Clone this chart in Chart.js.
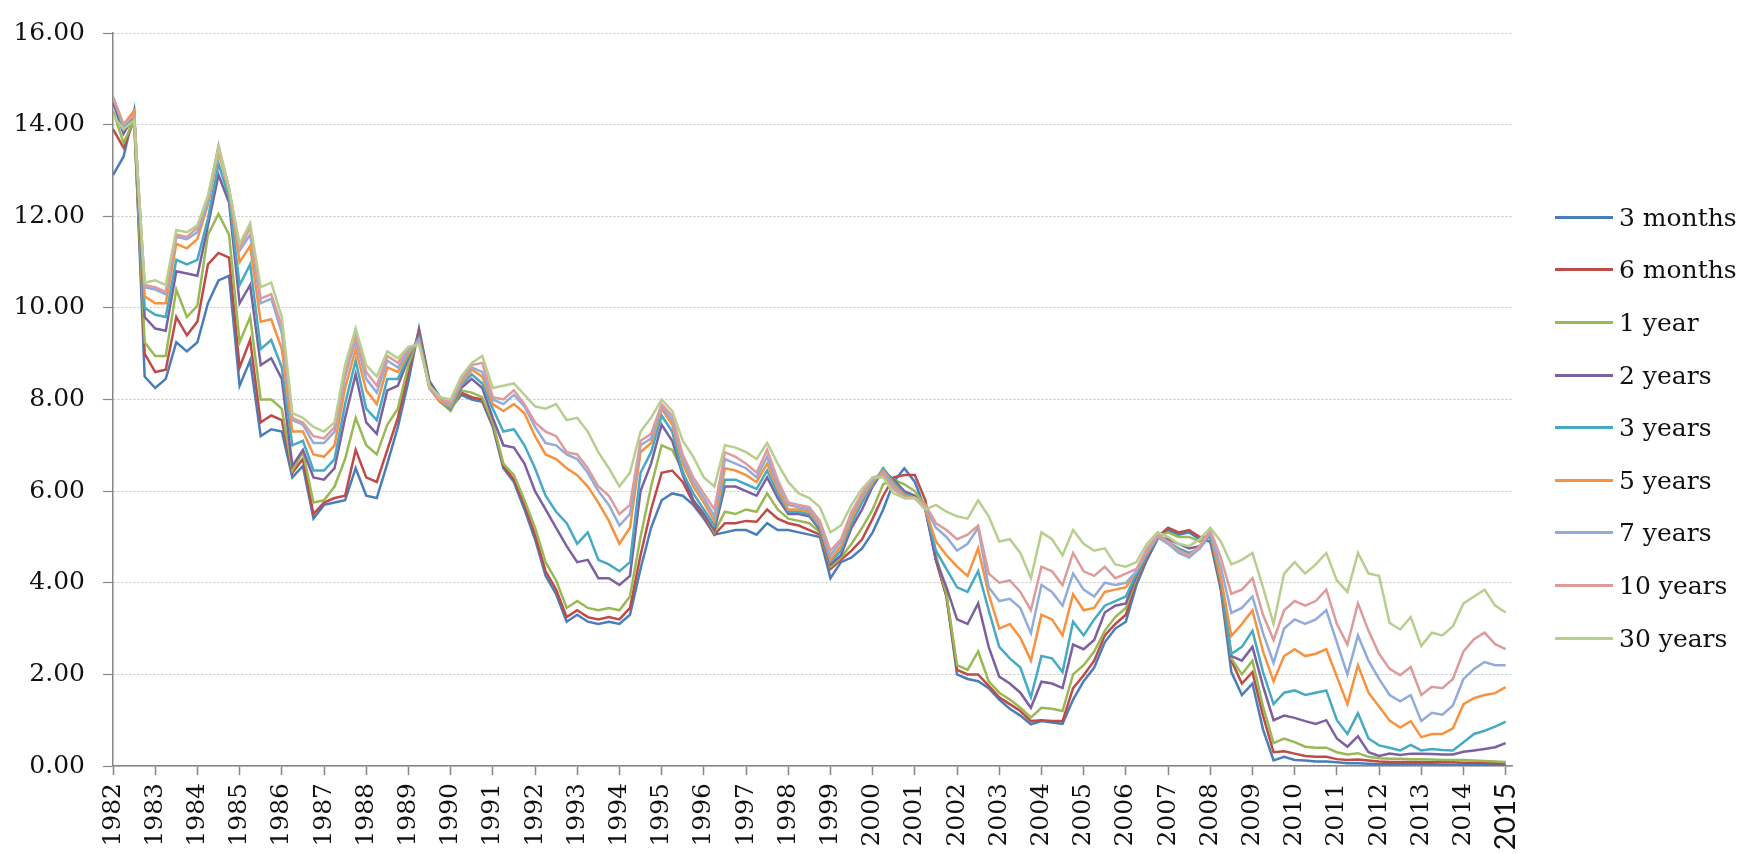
<!DOCTYPE html>
<html>
<head>
<meta charset="utf-8">
<script src="https://cdn.jsdelivr.net/npm/chart.js@4.4.1/dist/chart.umd.min.js"></script>
<style>
  html, body { margin: 0; padding: 0; background: #fff; }
  #wrap { position: relative; width: 1756px; height: 854px; }
  #legend { position: absolute; left: 1555px; top: 191px; font: 25px "DejaVu Serif", serif; color: #111; }
  .item { height: 52.6px; display: flex; align-items: center; white-space: nowrap; }
  .swatch { width: 58px; height: 3px; margin-right: 6px; }
</style>
</head>
<body>
<div id="wrap">
  <canvas id="chart"></canvas>
  <div id="legend"></div>
</div>
<script>
// quarterly points, 1982 Q1 .. 2015 Q1
const quarters = [];
for (let y = 1982; y <= 2015; y++) {
  for (let q = 0; q < 4; q++) {
    if (y === 2015 && q > 0) break;
    quarters.push(y + q / 4);
  }
}

const yearTicks = [1982, 1983, 1984, 1985, 1986, 1987, 1988, 1989, 1990, 1991, 1992,
  1993, 1994, 1995, 1996, 1997, 1998, 1999, 2000, 2001, 2002, 2003, 2004, 2005,
  2006, 2007, 2008, 2009, 2010, 2011, 2012, 2013, 2014, 2015];

const seriesNames = ["3 months", "6 months", "1 year", "2 years", "3 years",
  "5 years", "7 years", "10 years", "30 years"];
const seriesColors = ["#4A7EBB", "#BE4B48", "#98B954", "#7D60A0", "#46AAC5",
  "#F69240", "#93ABDA", "#DE9B9B", "#B7CF8E"];

const m3 = [
  12.9, 13.3, 14.3, 8.5,
  8.25, 8.45, 9.25, 9.05,
  9.25, 10.1, 10.6, 10.7,
  8.3, 8.85, 7.2, 7.35,
  7.3, 6.3, 6.55, 5.4,
  5.7, 5.75, 5.8, 6.5,
  5.9, 5.85, 6.6, 7.4,
  8.4, 9.55, 8.4, 8.05,
  7.8, 8.1, 8.0, 7.95,
  7.4, 6.5, 6.2, 5.6,
  4.95, 4.15, 3.75, 3.15,
  3.3, 3.15, 3.1, 3.15,
  3.1, 3.3, 4.3, 5.2,
  5.8, 5.95, 5.9, 5.7,
  5.4, 5.05, 5.1, 5.15,
  5.15, 5.05, 5.3, 5.15,
  5.15, 5.1, 5.05, 5.0,
  4.1, 4.45, 4.55, 4.75,
  5.1, 5.6, 6.2, 6.5,
  6.2, 5.6, 4.5, 3.7,
  2.0, 1.9, 1.85, 1.7,
  1.45, 1.25, 1.1, 0.91,
  0.98, 0.95, 0.92, 1.45,
  1.85, 2.15, 2.7, 3.0,
  3.15, 3.95, 4.5, 4.95,
  5.15, 5.05, 5.1, 4.95,
  4.9, 3.85, 2.05, 1.55,
  1.8, 0.8, 0.12, 0.2,
  0.13, 0.12, 0.1, 0.1,
  0.08, 0.06, 0.06, 0.05,
  0.04, 0.04, 0.04, 0.04,
  0.04, 0.04, 0.03, 0.03,
  0.03, 0.03, 0.03, 0.02,
  0.02
];

const m6 = [
  13.9, 13.5, 14.1, 9.0,
  8.6, 8.65, 9.8, 9.4,
  9.7, 10.95, 11.2, 11.1,
  8.7, 9.3, 7.5, 7.65,
  7.55, 6.4, 6.7, 5.5,
  5.75, 5.85, 5.9, 6.9,
  6.3, 6.2, 6.9, 7.6,
  8.6, 9.5, 8.35, 8.0,
  7.8, 8.15, 8.05, 8.0,
  7.45, 6.55, 6.25, 5.7,
  5.05, 4.25, 3.85, 3.25,
  3.4, 3.25, 3.2, 3.25,
  3.2, 3.45, 4.6, 5.6,
  6.4, 6.45, 6.2, 5.75,
  5.45, 5.05, 5.3, 5.3,
  5.35, 5.33, 5.6, 5.4,
  5.3, 5.25, 5.15, 5.05,
  4.3, 4.5, 4.7, 4.95,
  5.4, 5.9, 6.3, 6.35,
  6.35, 5.8, 4.5, 3.7,
  2.1, 2.0, 2.0, 1.75,
  1.5, 1.35, 1.2, 0.98,
  1.0, 0.98, 0.98, 1.7,
  1.98, 2.3, 2.85, 3.1,
  3.3, 4.05, 4.55, 5.0,
  5.2, 5.1, 5.15, 5.0,
  5.0, 3.9, 2.3, 1.8,
  2.05, 1.1, 0.3, 0.32,
  0.27, 0.22, 0.2, 0.2,
  0.15, 0.13, 0.14, 0.12,
  0.1, 0.09, 0.09, 0.09,
  0.09, 0.08, 0.08, 0.08,
  0.07, 0.07, 0.07, 0.06,
  0.06
];

const y1 = [
  14.3, 13.6, 14.1, 9.25,
  8.95, 8.95, 10.4, 9.8,
  10.05, 11.6, 12.05, 11.6,
  9.25, 9.8, 8.0, 8.0,
  7.8, 6.45, 6.85, 5.75,
  5.8, 6.1, 6.7, 7.6,
  7.0, 6.8, 7.45, 7.8,
  8.75, 9.4, 8.3, 7.95,
  7.75, 8.2, 8.15, 8.05,
  7.5, 6.6, 6.35, 5.8,
  5.2, 4.45, 4.05, 3.45,
  3.6, 3.45, 3.4, 3.45,
  3.4, 3.7, 5.0, 6.1,
  7.0, 6.9, 6.45, 5.8,
  5.5, 5.1, 5.55, 5.5,
  5.6, 5.55, 5.95, 5.6,
  5.4, 5.35, 5.3, 5.1,
  4.35, 4.55, 4.85, 5.2,
  5.6, 6.15, 6.25, 6.15,
  6.0, 5.7, 4.6, 3.75,
  2.2, 2.1, 2.5, 1.85,
  1.6, 1.45, 1.27, 1.06,
  1.27, 1.25, 1.2, 2.0,
  2.2, 2.5, 2.95, 3.25,
  3.45, 4.1, 4.6, 5.0,
  5.1, 5.0, 5.0, 4.9,
  5.05, 3.98, 2.35, 2.0,
  2.3, 1.3, 0.5, 0.6,
  0.52, 0.42, 0.4, 0.4,
  0.3, 0.25, 0.28, 0.2,
  0.17, 0.16, 0.16, 0.15,
  0.15, 0.14, 0.13, 0.13,
  0.13, 0.12, 0.11, 0.1,
  0.09
];

const y2 = [
  14.5, 13.8, 14.2, 9.8,
  9.55, 9.5, 10.8, 10.75,
  10.7, 11.8, 12.9, 12.3,
  10.1, 10.5, 8.75, 8.9,
  8.45, 6.55, 6.9, 6.3,
  6.25, 6.5, 7.6, 8.55,
  7.5, 7.25, 8.2, 8.3,
  8.9, 9.4, 8.25, 7.95,
  7.8, 8.25, 8.45, 8.25,
  7.6, 7.0, 6.95, 6.6,
  6.0, 5.6, 5.2, 4.8,
  4.45, 4.5, 4.1, 4.1,
  3.95, 4.15, 6.0, 6.6,
  7.45, 7.1, 6.35, 5.8,
  5.5, 5.15, 6.1, 6.1,
  6.0, 5.9, 6.3, 5.85,
  5.5, 5.5, 5.45, 5.15,
  4.4, 4.6, 5.2, 5.6,
  6.1, 6.45, 6.25, 6.0,
  5.9, 5.6, 4.5, 3.9,
  3.2, 3.1, 3.55, 2.6,
  1.95, 1.8, 1.6, 1.27,
  1.84, 1.8, 1.7, 2.65,
  2.55, 2.75, 3.35, 3.5,
  3.55, 4.15, 4.6, 5.0,
  4.95, 4.85, 4.75, 4.8,
  5.05, 4.05, 2.4, 2.3,
  2.6, 1.75, 1.0, 1.1,
  1.05, 0.98, 0.92, 1.0,
  0.6, 0.42, 0.65, 0.3,
  0.22, 0.27, 0.24, 0.27,
  0.27, 0.26, 0.25, 0.25,
  0.31, 0.34, 0.37, 0.41,
  0.5
];

const y3 = [
  14.6, 13.9, 14.3, 10.0,
  9.85, 9.8, 11.05, 10.95,
  11.05, 11.95, 13.15, 12.4,
  10.5, 10.95, 9.1, 9.3,
  8.7, 7.0, 7.1, 6.45,
  6.45, 6.7, 7.9, 8.85,
  7.8, 7.55, 8.45, 8.45,
  8.95, 9.35, 8.25, 7.95,
  7.8, 8.3, 8.55, 8.35,
  7.8, 7.3, 7.35, 7.0,
  6.5, 5.9, 5.55, 5.3,
  4.85, 5.1, 4.5, 4.4,
  4.25, 4.45, 6.4, 6.85,
  7.65, 7.3, 6.4, 5.95,
  5.6, 5.25, 6.25, 6.25,
  6.15, 6.05, 6.45, 5.95,
  5.55, 5.55, 5.5, 5.2,
  4.45, 4.7, 5.3, 5.75,
  6.15, 6.5, 6.2, 5.95,
  5.85, 5.6, 4.7, 4.3,
  3.9, 3.8, 4.25, 3.4,
  2.6, 2.35, 2.15, 1.5,
  2.4, 2.35, 2.05, 3.15,
  2.85, 3.2, 3.5, 3.6,
  3.7, 4.2, 4.6, 5.0,
  4.9, 4.75, 4.65, 4.75,
  5.05, 4.05, 2.45, 2.6,
  2.95, 2.05, 1.35, 1.6,
  1.65, 1.55, 1.6, 1.65,
  1.0, 0.7, 1.15, 0.6,
  0.45, 0.4, 0.34, 0.46,
  0.34, 0.37, 0.35, 0.34,
  0.52, 0.7, 0.77, 0.86,
  0.97
];

const y5 = [
  14.6, 14.0, 14.3, 10.25,
  10.1, 10.1, 11.4, 11.3,
  11.5, 12.25, 13.4, 12.55,
  11.0, 11.35, 9.7, 9.75,
  9.1, 7.3, 7.3, 6.8,
  6.75, 7.0, 8.25, 9.1,
  8.2, 7.9, 8.7, 8.6,
  9.0, 9.3, 8.25, 7.95,
  7.85, 8.35, 8.65, 8.5,
  7.9, 7.75, 7.9, 7.7,
  7.2, 6.8, 6.7, 6.5,
  6.35, 6.1, 5.75, 5.35,
  4.85, 5.2, 6.85, 7.05,
  7.8, 7.45, 6.6, 6.1,
  5.75, 5.35, 6.5, 6.45,
  6.35, 6.2, 6.6, 6.05,
  5.6, 5.6, 5.55, 5.25,
  4.5, 4.8, 5.4, 5.85,
  6.2, 6.45, 6.15, 5.9,
  5.85, 5.6, 4.9, 4.6,
  4.35, 4.15, 4.75, 3.75,
  3.0, 3.1, 2.8, 2.3,
  3.3, 3.2, 2.85, 3.75,
  3.4, 3.45, 3.8, 3.85,
  3.9, 4.25, 4.65, 5.0,
  4.85, 4.7, 4.6, 4.75,
  5.1, 4.12, 2.84, 3.1,
  3.4, 2.5, 1.85, 2.4,
  2.55, 2.4, 2.45, 2.55,
  1.95, 1.35, 2.2, 1.6,
  1.3, 0.99, 0.84, 0.98,
  0.63, 0.7, 0.7, 0.82,
  1.35, 1.48, 1.55, 1.59,
  1.72
];

const y7 = [
  14.6, 14.0, 14.2, 10.45,
  10.4, 10.3, 11.55, 11.5,
  11.65, 12.3, 13.5, 12.6,
  11.25, 11.6, 10.1, 10.2,
  9.45, 7.55, 7.45, 7.05,
  7.05, 7.3, 8.5, 9.3,
  8.45, 8.15, 8.85, 8.7,
  9.05, 9.3, 8.25, 8.0,
  7.9, 8.4, 8.7, 8.6,
  8.0, 7.9, 8.1, 7.85,
  7.4, 7.05, 7.0, 6.8,
  6.7, 6.4, 6.0, 5.7,
  5.25, 5.5, 7.0, 7.15,
  7.85, 7.55, 6.7, 6.2,
  5.85, 5.45, 6.7, 6.6,
  6.5, 6.3, 6.75, 6.15,
  5.7, 5.65, 5.6, 5.3,
  4.6, 4.9, 5.5, 5.9,
  6.25, 6.4, 6.1, 5.85,
  5.85, 5.65, 5.2, 5.0,
  4.7, 4.85, 5.2, 3.9,
  3.6, 3.65, 3.45, 2.9,
  3.95, 3.8, 3.5, 4.2,
  3.85, 3.7, 4.0, 3.95,
  4.0, 4.25, 4.7, 5.0,
  4.85, 4.65, 4.55, 4.75,
  5.1, 4.35, 3.34, 3.45,
  3.7, 2.9, 2.25, 3.0,
  3.2, 3.1, 3.2, 3.4,
  2.7, 2.0, 2.85, 2.3,
  1.9, 1.55, 1.41, 1.55,
  0.98, 1.16, 1.12, 1.32,
  1.9, 2.12, 2.27, 2.2,
  2.2
];

const y10 = [
  14.6, 14.0, 14.2, 10.5,
  10.45, 10.35, 11.6, 11.55,
  11.75, 12.4, 13.55, 12.6,
  11.3, 11.75, 10.2, 10.3,
  9.6, 7.6, 7.5, 7.2,
  7.15, 7.4, 8.6, 9.4,
  8.6, 8.3, 8.95, 8.8,
  9.1, 9.25, 8.25, 8.0,
  7.95, 8.45, 8.75, 8.8,
  8.05, 8.0, 8.2, 7.9,
  7.5, 7.3, 7.2, 6.85,
  6.8, 6.5, 6.1, 5.9,
  5.5, 5.7, 7.1, 7.25,
  7.9, 7.65, 6.8, 6.3,
  5.95, 5.6, 6.85, 6.75,
  6.6, 6.4, 6.9, 6.25,
  5.75, 5.7, 5.65, 5.35,
  4.7, 4.95, 5.55, 5.95,
  6.3, 6.35, 6.05, 5.85,
  5.85, 5.7, 5.3, 5.15,
  4.95, 5.05, 5.25, 4.2,
  4.0, 4.05, 3.8, 3.4,
  4.35, 4.25, 3.95, 4.65,
  4.25, 4.15, 4.35, 4.1,
  4.2, 4.3, 4.75, 5.05,
  4.9, 4.7, 4.6, 4.8,
  5.15, 4.55, 3.76, 3.85,
  4.1, 3.3, 2.75, 3.4,
  3.6, 3.5, 3.6, 3.85,
  3.1, 2.65, 3.55, 2.95,
  2.45, 2.12, 1.98, 2.16,
  1.55, 1.73, 1.7, 1.9,
  2.5, 2.77, 2.91, 2.66,
  2.55
];

const y30 = [
  14.2, 13.9, 14.1, 10.55,
  10.6, 10.5, 11.7, 11.65,
  11.8, 12.45, 13.5, 12.6,
  11.4, 11.85, 10.45, 10.55,
  9.8, 7.7, 7.6, 7.4,
  7.3, 7.5, 8.75, 9.55,
  8.75, 8.5, 9.05, 8.9,
  9.15, 9.2, 8.3, 8.05,
  8.0, 8.5, 8.8, 8.95,
  8.25, 8.3, 8.35, 8.1,
  7.85, 7.8, 7.9, 7.55,
  7.6, 7.3, 6.85, 6.5,
  6.1, 6.4, 7.3, 7.6,
  8.0, 7.75, 7.1, 6.75,
  6.3, 6.1, 7.0, 6.95,
  6.85, 6.7, 7.05, 6.6,
  6.2, 5.95, 5.85, 5.65,
  5.1, 5.25, 5.7, 6.05,
  6.3, 6.3, 5.95, 5.85,
  5.85, 5.6, 5.7, 5.55,
  5.45, 5.4, 5.8, 5.45,
  4.9, 4.95, 4.65, 4.1,
  5.1, 4.95, 4.6, 5.15,
  4.85, 4.7, 4.75, 4.4,
  4.35, 4.45, 4.85, 5.1,
  5.0, 4.85, 4.8, 4.95,
  5.2, 4.9, 4.4, 4.5,
  4.65, 3.9, 3.1, 4.2,
  4.45, 4.2, 4.4, 4.65,
  4.05, 3.8, 4.65, 4.2,
  4.15, 3.12, 2.98, 3.25,
  2.62, 2.91, 2.85, 3.05,
  3.55, 3.7, 3.85, 3.5,
  3.35
];

const seriesValues = [m3, m6, y1, y2, y3, y5, y7, y10, y30];

const serif = "'DejaVu Serif', serif";
const inkColor = "#111111";
const axisColor = "#868686";

const datasets = seriesNames.map((name, i) => ({
  label: name,
  data: seriesValues[i],
  borderColor: seriesColors[i],
  backgroundColor: seriesColors[i],
  borderWidth: 2.5,
  pointRadius: 0,
  tension: 0,
  fill: false,
  order: seriesNames.length - i   // later series drawn on top, as in the original
}));

const ctx = document.getElementById("chart").getContext("2d");
const chart = new Chart(ctx, {
  type: "line",
  data: { labels: quarters, datasets: datasets },
  options: {
    responsive: true,
    maintainAspectRatio: false,
    animation: false,
    layout: { padding: { left: 12, right: 244, top: 18, bottom: 0 } },
    plugins: {
      legend: { display: false },
      tooltip: { enabled: false }
    },
    scales: {
      x: {
        type: "linear",
        min: 1982,
        max: 2015.15,
        afterBuildTicks: (scale) => {
          scale.ticks = yearTicks.map((v) => ({ value: v }));
        },
        afterFit: (scale) => { scale.height = 88; },
        grid: {
          drawOnChartArea: false,
          drawTicks: true,
          tickLength: 9,
          tickColor: axisColor,
          tickWidth: 1.5
        },
        border: { color: axisColor, width: 1.5 },
        ticks: {
          autoSkip: false,
          minRotation: 90,
          maxRotation: 90,
          padding: 8,
          color: inkColor,
          font: (c) => (c.tick && c.tick.value === 2015)
            ? { family: "Lato, 'Open Sans', sans-serif", size: 29 }
            : { family: serif, size: 25 },
          callback: (v) => String(v)
        }
      },
      y: {
        min: 0,
        max: 16,
        afterFit: (scale) => { scale.width = 101; },
        ticks: {
          stepSize: 2,
          padding: 18,
          color: inkColor,
          font: { family: serif, size: 25 },
          callback: (v) => Number(v).toFixed(2)
        },
        grid: {
          color: "#C4C4C4",
          lineWidth: 1,
          tickColor: axisColor,
          tickLength: 10,
          tickWidth: 1.2
        },
        border: { color: axisColor, width: 1.5, dash: [2, 2] }
      }
    }
  }
});

// legend built from the same series lists
const legendEl = document.getElementById("legend");
chart.data.datasets.forEach((ds) => {
  const item = document.createElement("div");
  item.className = "item";
  const sw = document.createElement("span");
  sw.className = "swatch";
  sw.style.background = ds.borderColor;
  const tx = document.createElement("span");
  tx.textContent = ds.label;
  item.appendChild(sw);
  item.appendChild(tx);
  legendEl.appendChild(item);
});
</script>
</body>
</html>
